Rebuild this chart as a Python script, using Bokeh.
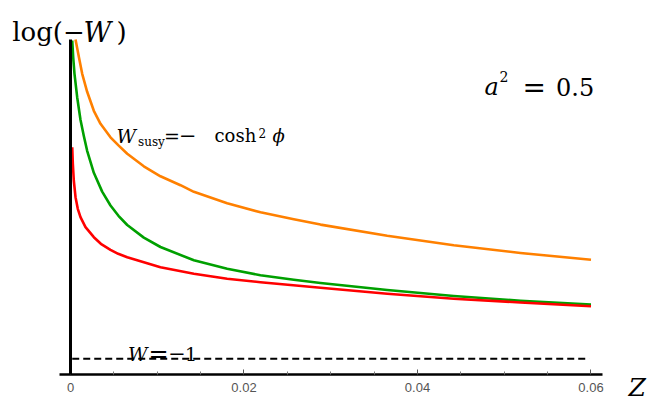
from bokeh.plotting import figure
from bokeh.models import Range1d, FixedTicker, Label
from bokeh.embed import file_html
from bokeh.resources import INLINE

# ---- data ----
z_orange = [0.00058, 0.00096, 0.00135, 0.00192, 0.00269, 0.00346, 0.00461, 0.00553, 0.00654,
            0.00845, 0.01037, 0.01268, 0.01422, 0.01806, 0.0219, 0.02574, 0.02882, 0.03651,
            0.04418, 0.05187, 0.06]
y_orange = [3.193, 3.02, 2.85, 2.67, 2.48, 2.35, 2.215, 2.134, 2.05,
            1.925, 1.825, 1.736, 1.67, 1.555, 1.465, 1.396, 1.342, 1.23,
            1.135, 1.058, 0.99]

z_green = [0.0002, 0.00031, 0.00046, 0.00077, 0.00115, 0.00153, 0.00192, 0.00269, 0.00365,
           0.00461, 0.00553, 0.00654, 0.00845, 0.01037, 0.01422, 0.01806, 0.0219, 0.02574,
           0.02882, 0.03651, 0.04418, 0.05187, 0.06]
y_green = [3.183, 3.016, 2.85, 2.616, 2.39, 2.23, 2.08, 1.86, 1.672,
           1.533, 1.43, 1.338, 1.212, 1.118, 0.985, 0.9, 0.835, 0.79,
           0.758, 0.688, 0.628, 0.58, 0.543]

z_red = [0.0002, 0.00027, 0.00038, 0.00058, 0.00084, 0.00115, 0.00173, 0.00269, 0.0035,
         0.00461, 0.0055, 0.00654, 0.01037, 0.01422, 0.01806, 0.0219, 0.02882, 0.03651,
         0.04418, 0.05187, 0.06]
y_red = [2.116, 1.95, 1.783, 1.616, 1.5, 1.416, 1.316, 1.216, 1.15,
         1.09, 1.05, 1.016, 0.916, 0.85, 0.8, 0.766, 0.71, 0.65,
         0.6, 0.563, 0.526]

z_ref = [0.0002, 0.0598]
y_ref = [0.0, 0.0]          # W = -1  ->  log(-W) = 0

x_ticks = [0, 0.02, 0.04, 0.06]
x_tick_labels = ["0", "0.02", "0.04", "0.06"]
x_minor = [0.005, 0.01, 0.015, 0.025, 0.03, 0.035, 0.045, 0.05, 0.055]

SERIF = "DejaVu Serif"

p = figure(width=650, height=398, output_backend="svg", toolbar_location=None,
           x_range=Range1d(-0.008069, 0.066859), y_range=Range1d(-0.397, 3.583),
           min_border_left=0, min_border_right=0, min_border_top=0, min_border_bottom=0)
p.outline_line_color = None
p.xgrid.visible = False
p.ygrid.visible = False
p.background_fill_color = "white"
p.border_fill_color = "white"

# x axis (drawn inside the frame at its fixed location)
xa = p.xaxis[0]
xa.fixed_location = -0.16
xa.bounds = (-0.00123, 0.06129)
xa.ticker = FixedTicker(ticks=x_ticks, minor_ticks=x_minor)
xa.major_label_overrides = {t: l for t, l in zip(x_ticks, x_tick_labels)}
xa.axis_line_width = 2.5
xa.axis_line_color = "black"
xa.major_tick_in = 5
xa.major_tick_out = 0
xa.minor_tick_in = 3
xa.minor_tick_out = 0
xa.major_tick_line_color = "#555555"
xa.minor_tick_line_color = "#777777"
xa.major_label_text_font = "Liberation Sans"
xa.major_label_text_font_size = "13px"
xa.major_label_text_color = "#555555"
xa.major_label_standoff = 8

# y axis drawn at Z = 0
ya = p.yaxis[0]
ya.fixed_location = 0
ya.bounds = (-0.16, 3.193)
ya.axis_line_width = 3
ya.axis_line_color = "black"
ya.major_tick_line_color = None
ya.minor_tick_line_color = None
ya.major_label_text_font_size = "0px"
ya.major_label_text_color = None

# curves
p.line(z_ref, y_ref, line_color="black", line_width=2, line_dash="7 4")
p.line(z_orange, y_orange, line_color="#FF8000", line_width=2.6, line_join="round")
p.line(z_green, y_green, line_color="#00A000", line_width=2.6, line_join="round")
p.line(z_red, y_red, line_color="#FF0000", line_width=2.6, line_join="round")


def lab(x, y, t, size, italic=False):
    p.add_layout(Label(x=x, y=y, text=t, text_font=SERIF, text_font_size=size,
                       text_font_style="italic" if italic else "normal",
                       text_color="black", text_align="left", text_baseline="alphabetic"))


# axis titles
lab(-0.00672, 3.266, "log(\u2212", "26px")
lab(0.001499, 3.266, "W", "27px", True)
lab(0.005303, 3.266, ")", "26px")
lab(0.064323, -0.282, "Z", "25px", True)

# a^2 = 0.5
lab(0.047723, 2.716, "a", "24px", True)
lab(0.049452, 2.823, "2", "14px")
lab(0.052104, 2.716, "=", "28px")
lab(0.055965, 2.716, "0.5", "24px")

# W_susy = - cosh^2 phi
lab(0.005303, 2.233, "W", "19px", True)
lab(0.007781, 2.173, "susy", "12px")
lab(0.010778, 2.233, "=", "19px")
lab(0.012507, 2.233, "\u2212", "21px")
lab(0.016599, 2.233, "cosh", "18px")
lab(0.021671, 2.263, "2", "12px")
lab(0.023285, 2.233, "\u03d5", "18px", True)

# W = -1
lab(0.006628, 0.05, "W", "19px", True)
lab(0.008991, 0.05, "=", "24px")
lab(0.011274, 0.05, "\u2212", "21px")
lab(0.013199, 0.05, "1", "19px")

open("out.html", "w").write(file_html(p, INLINE))
